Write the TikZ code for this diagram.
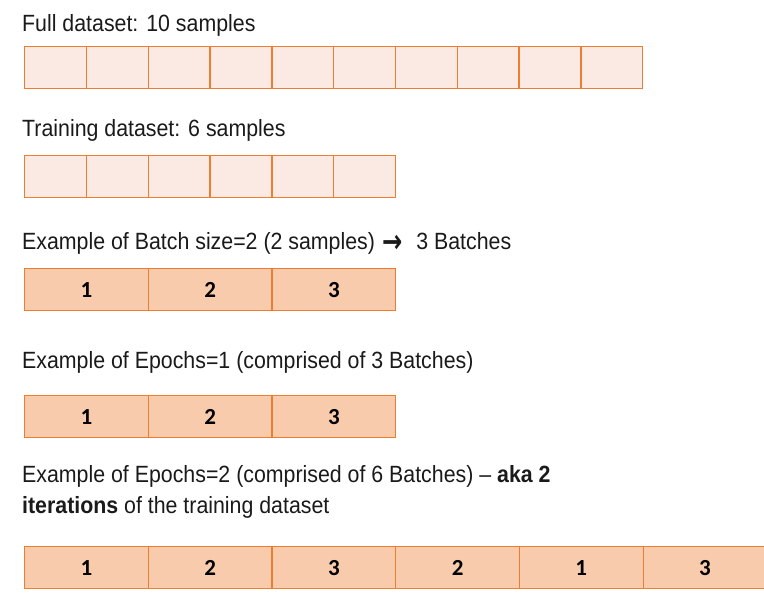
\documentclass[tikz,border=0pt]{standalone}
\usepackage{fontspec}
\setmainfont[FakeStretch=0.908]{Liberation Sans}
\newfontfamily\numfont{Carlito}
\newfontfamily\arrowfont{DejaVu Sans}
\definecolor{edge}{HTML}{ED7D31}
\definecolor{light}{HTML}{FBE9E3}
\definecolor{peach}{HTML}{F8CBAD}
\definecolor{ink}{HTML}{1A1A1A}
\begin{document}
\begin{tikzpicture}[x=1pt,y=-1pt,
  lbl/.style={anchor=base west, inner sep=0pt, text=ink, font=\fontsize{23.5}{28}\selectfont},
  cell/.style={draw=edge, line width=1.3pt, fill=light, minimum height=42pt, inner sep=0pt, anchor=north west},
  bcell/.style={cell, fill=peach, text=black, font=\numfont\bfseries\fontsize{23}{26}\selectfont}]
\useasboundingbox (0,0) rectangle (764,604);
\clip (0,0) rectangle (764,604);

\node[lbl] (l1) at (22,32) {Full dataset: 10 samples};
\foreach \i in {0,...,9}
  \node[cell, minimum width=61.8pt] (f\i) at ({24+61.8*\i},46) {};

\node[lbl] (l2) at (22,137) {Training dataset: 6 samples};
\foreach \i in {0,...,5}
  \node[cell, minimum width=61.8pt] (t\i) at ({24+61.8*\i},155) {};

\node[lbl] (l3) at (22,250) {Example of Batch size=2 (2 samples)\hspace{7pt}\raisebox{-2.5pt}{\scalebox{1.1}[1.45]{\arrowfont\bfseries\fontsize{22}{26}\selectfont →}}\hspace{14pt}3 Batches};
\foreach \n [count=\i from 0] in {1,2,3}
  \node[bcell, minimum width=123.7pt] (b\i) at ({24+123.7*\i},268) {\n};

\node[lbl] (l4) at (22,369) {Example of Epochs=1 (comprised of 3 Batches)};
\foreach \n [count=\i from 0] in {1,2,3}
  \node[bcell, minimum width=123.7pt] (e\i) at ({24+123.7*\i},395) {\n};

\node[lbl] (l5) at (22,482) {Example of Epochs=2 (comprised of 6 Batches) – \textbf{aka 2}};
\node[lbl] (l6) at (22,513) {\textbf{iterations} of the training dataset};
\foreach \n [count=\i from 0] in {1,2,3,2,1,3}
  \node[bcell, minimum width=123.7pt] (g\i) at ({24+123.7*\i},546) {\n};
\end{tikzpicture}
\end{document}
